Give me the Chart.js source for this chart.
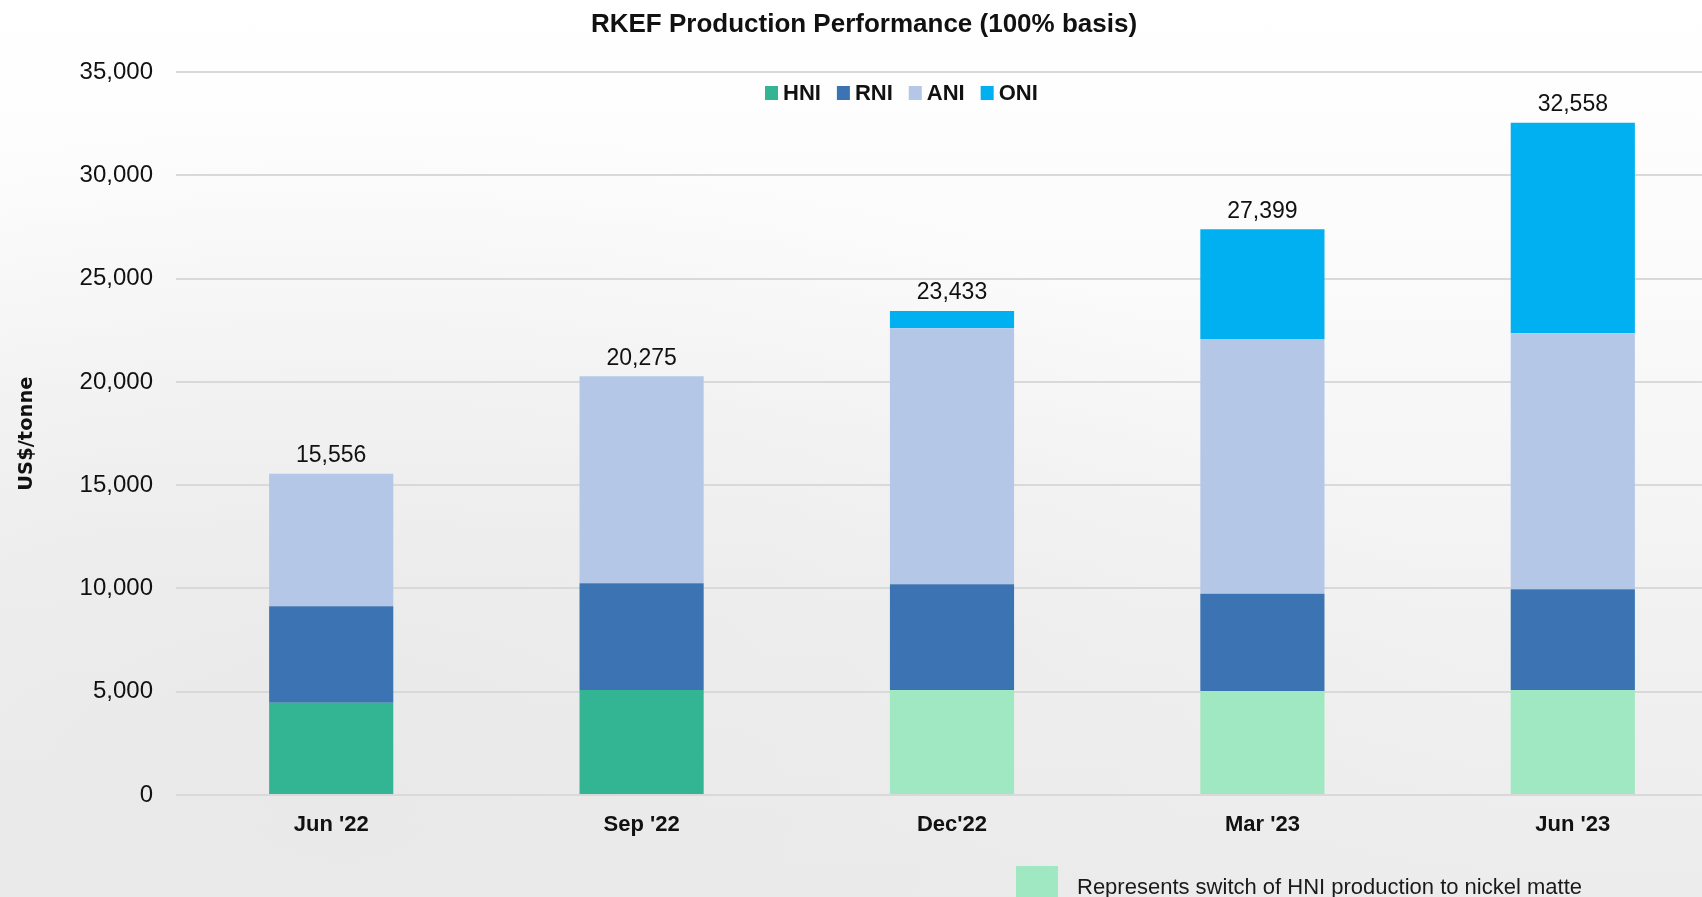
<!DOCTYPE html>
<html>
<head>
<meta charset="utf-8">
<title>RKEF Production Performance</title>
<script src="https://cdn.jsdelivr.net/npm/chart.js@4"></script>
<style>
  html, body {
    margin: 0;
    padding: 0;
    width: 1702px;
    height: 897px;
    overflow: hidden;
    background:
      radial-gradient(ellipse at 20% 90%, #e9e9e9 0%, rgba(233,233,233,0) 60%),
      linear-gradient(180deg, #ffffff 0%, #fbfbfb 30%, #f1f1f1 70%, #ececec 100%);
    font-family: "Liberation Sans", Arial, sans-serif;
  }
  #wrap { position: absolute; left: 0; top: 0; }
  #note {
    position: absolute;
    left: 1016px;
    top: 866px;
    height: 40px;
    display: flex;
    align-items: flex-start;
    font-size: 22px;
    color: #1a1a1a;
  }
  #note .swatch {
    width: 42px;
    height: 40px;
    background: #a0e8c2;
    margin-right: 19px;
  }
  #note span { margin-top: 8px; }
</style>
</head>
<body>
<div id="wrap"><canvas id="chart" width="1728" height="897"></canvas></div>
<div id="note"><div class="swatch"></div><span>Represents switch of HNI production to nickel matte</span></div>

<script>
/* =========================
   DATA
========================= */

const categories = ["Jun '22", "Sep '22", "Dec'22", "Mar '23", "Jun '23"];

const hni = [4470, 5080, 5080, 5030, 5080];
const rni = [4670, 5170, 5120, 4720, 4880];
const ani = [6416, 10025, 12400, 12335, 12400];
const oni = [0, 0, 833, 5314, 10198];

const yTicks = [0, 5000, 10000, 15000, 20000, 25000, 30000, 35000];

// HNI bars switched to nickel matte from Dec'22 onwards
const hniColors = ["#33b594", "#33b594", "#a0e8c2", "#a0e8c2", "#a0e8c2"];


/* =========================
   PLUGINS
========================= */

// totals above each stack
const totalsPlugin = {
  id: "totals",
  afterDatasetsDraw(chart) {
    const ctx = chart.ctx;
    const xs = chart.scales.x;
    const ys = chart.scales.y;
    ctx.save();
    ctx.font = "23px 'Liberation Sans', Arial, sans-serif";
    ctx.fillStyle = "#111";
    ctx.textAlign = "center";
    ctx.textBaseline = "middle";
    categories.forEach((c, i) => {
      const total = chart.data.datasets.reduce((s, d) => s + d.data[i], 0);
      ctx.fillText(total.toLocaleString("en-US"), xs.getPixelForValue(i), ys.getPixelForValue(total) - 18);
    });
    ctx.restore();
  }
};

// legend drawn inside the plot, under the top gridline
const insideLegend = {
  id: "insideLegend",
  afterDraw(chart) {
    const ctx = chart.ctx;
    let x = 765;
    const y = 93;
    ctx.save();
    ctx.font = "bold 22px 'Liberation Sans', Arial, sans-serif";
    ctx.textBaseline = "middle";
    ctx.textAlign = "left";
    chart.data.datasets.forEach(d => {
      ctx.fillStyle = d.legendColor;
      ctx.fillRect(x, y - 7, 13, 14);
      ctx.fillStyle = "#111";
      ctx.fillText(d.label, x + 18, y + 1);
      x += 18 + ctx.measureText(d.label).width + 16;
    });
    ctx.restore();
  }
};


/* =========================
   CHART
========================= */

const common = { barPercentage: 1, categoryPercentage: 0.4, borderWidth: 0 };

new Chart(document.getElementById("chart"), {
  type: "bar",
  data: {
    labels: categories,
    datasets: [
      { label: "HNI", data: hni, backgroundColor: hniColors, legendColor: "#33b594", ...common },
      { label: "RNI", data: rni, backgroundColor: "#3b73b3", legendColor: "#3b73b3", ...common },
      { label: "ANI", data: ani, backgroundColor: "#b4c7e7", legendColor: "#b4c7e7", ...common },
      { label: "ONI", data: oni, backgroundColor: "#00b0f0", legendColor: "#00b0f0", ...common }
    ]
  },
  options: {
    responsive: false,
    animation: false,
    layout: { padding: 0 },
    font: { family: "'Liberation Sans', Arial, sans-serif" },
    plugins: {
      legend: { display: false },
      tooltip: { enabled: false },
      title: {
        display: true,
        text: "RKEF Production Performance (100% basis)",
        color: "#111",
        font: { family: "'Liberation Sans', Arial, sans-serif", size: 26, weight: "bold" },
        padding: { top: 9, bottom: 32 }
      }
    },
    scales: {
      x: {
        stacked: true,
        grid: { display: false, drawTicks: false },
        border: { display: false },
        ticks: {
          color: "#111",
          padding: 17,
          font: { family: "'Liberation Sans', Arial, sans-serif", size: 22, weight: "bold" }
        },
        afterFit: s => { s.height = 102; }
      },
      y: {
        stacked: true,
        min: yTicks[0],
        max: yTicks[yTicks.length - 1],
        afterBuildTicks: s => { s.ticks = yTicks.map(v => ({ value: v })); },
        grid: { color: "#d9d9d9", lineWidth: 2, drawTicks: false },
        border: { display: false },
        ticks: {
          color: "#111",
          padding: 23,
          font: { family: "'Liberation Sans', Arial, sans-serif", size: 24 },
          callback: v => v.toLocaleString("en-US")
        },
        title: {
          display: true,
          text: "US$/tonne",
          color: "#111",
          font: { family: "'DejaVu Sans', sans-serif", size: 19.5, weight: "bold" },
          padding: { top: 15, bottom: 0 }
        },
        afterFit: s => { s.width = 176; }
      }
    }
  },
  plugins: [totalsPlugin, insideLegend]
});
</script>
</body>
</html>
